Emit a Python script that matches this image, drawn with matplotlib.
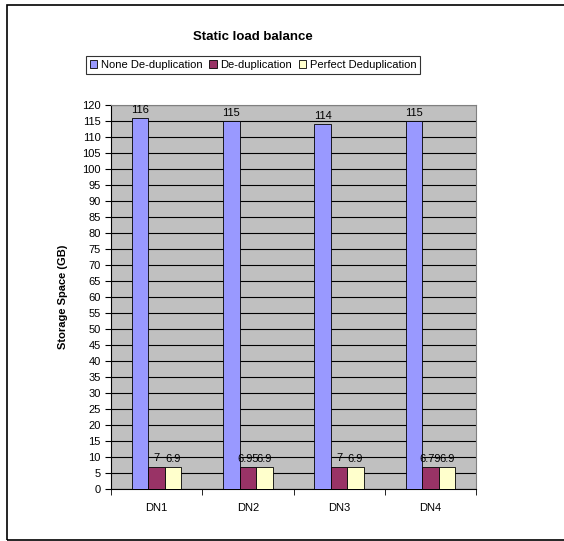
import matplotlib
matplotlib.use("Agg")
import matplotlib.pyplot as plt
from matplotlib.patches import Rectangle
import numpy as np

categories = ["DN1", "DN2", "DN3", "DN4"]
series_names = ["None De-duplication", "De-duplication", "Perfect Deduplication"]
none_dedup = [116, 115, 114, 115]
dedup = [7, 6.95, 7, 6.79]
perfect = [6.9, 6.9, 6.9, 6.9]
colors = ["#9999FF", "#993366", "#FFFFCC"]

W, H = 564, 541
fig = plt.figure(figsize=(W / 100, H / 100), dpi=100)
plt.rcParams['font.family'] = ['Liberation Sans', 'DejaVu Sans']

# outer frame
fig.patches.append(Rectangle((7 / W, 1 - 540 / H), (W + 2 - 7) / W, (540 - 5) / H,
                             transform=fig.transFigure, fill=False,
                             edgecolor="black", linewidth=1.2))

ax = fig.add_axes([111 / W, 1 - 489 / H, (476 - 111) / W, (489 - 105) / H])
ax.set_facecolor("#C0C0C0")

x = np.arange(len(categories))
bw = 0.18
data = [none_dedup, dedup, perfect]
for i, (vals, c, name) in enumerate(zip(data, colors, series_names)):
    pos = x + (i - 1) * bw
    ax.bar(pos, vals, bw, color=c, edgecolor="black", linewidth=0.6,
           label=name, zorder=3)
    for p, v in zip(pos, vals):
        ax.text(p, v + 1.0, f"{v:g}", ha="center", va="bottom", fontsize=8, zorder=4)

ax.set_xlim(-0.5, len(categories) - 0.5)
ax.set_ylim(0, 120)
ax.set_yticks(np.arange(0, 121, 5))
ax.yaxis.grid(True, color="black", linewidth=0.8, zorder=1)
ax.set_axisbelow(True)
ax.tick_params(axis="y", labelsize=8, length=4, direction="out")
ax.set_xticks(x)
ax.set_xticklabels(categories, fontsize=8)
ax.tick_params(axis="x", length=0, pad=10)
ax.set_xticks(np.arange(-0.5, len(categories), 1), minor=True)
ax.tick_params(axis="x", which="minor", length=4, direction="out")

for s in ["top", "right"]:
    ax.spines[s].set_color("#808080")
for s in ["left", "bottom"]:
    ax.spines[s].set_color("black")

ax.set_ylabel("Storage Space (GB)", fontsize=8, fontweight="bold", labelpad=10)

fig.text(253 / W, 1 - 37 / H, "Static load balance", ha="center", va="center",
         fontsize=9.5, fontweight="bold")

leg = fig.legend(loc="center", bbox_to_anchor=(253 / W, 1 - 65 / H), ncol=3,
                 fontsize=8, frameon=True, fancybox=False, edgecolor="black",
                 handlelength=0.7, handleheight=0.7, handletextpad=0.3,
                 columnspacing=0.6, borderpad=0.35)
leg.get_frame().set_linewidth(0.8)

fig.savefig("out.png", dpi=100)
